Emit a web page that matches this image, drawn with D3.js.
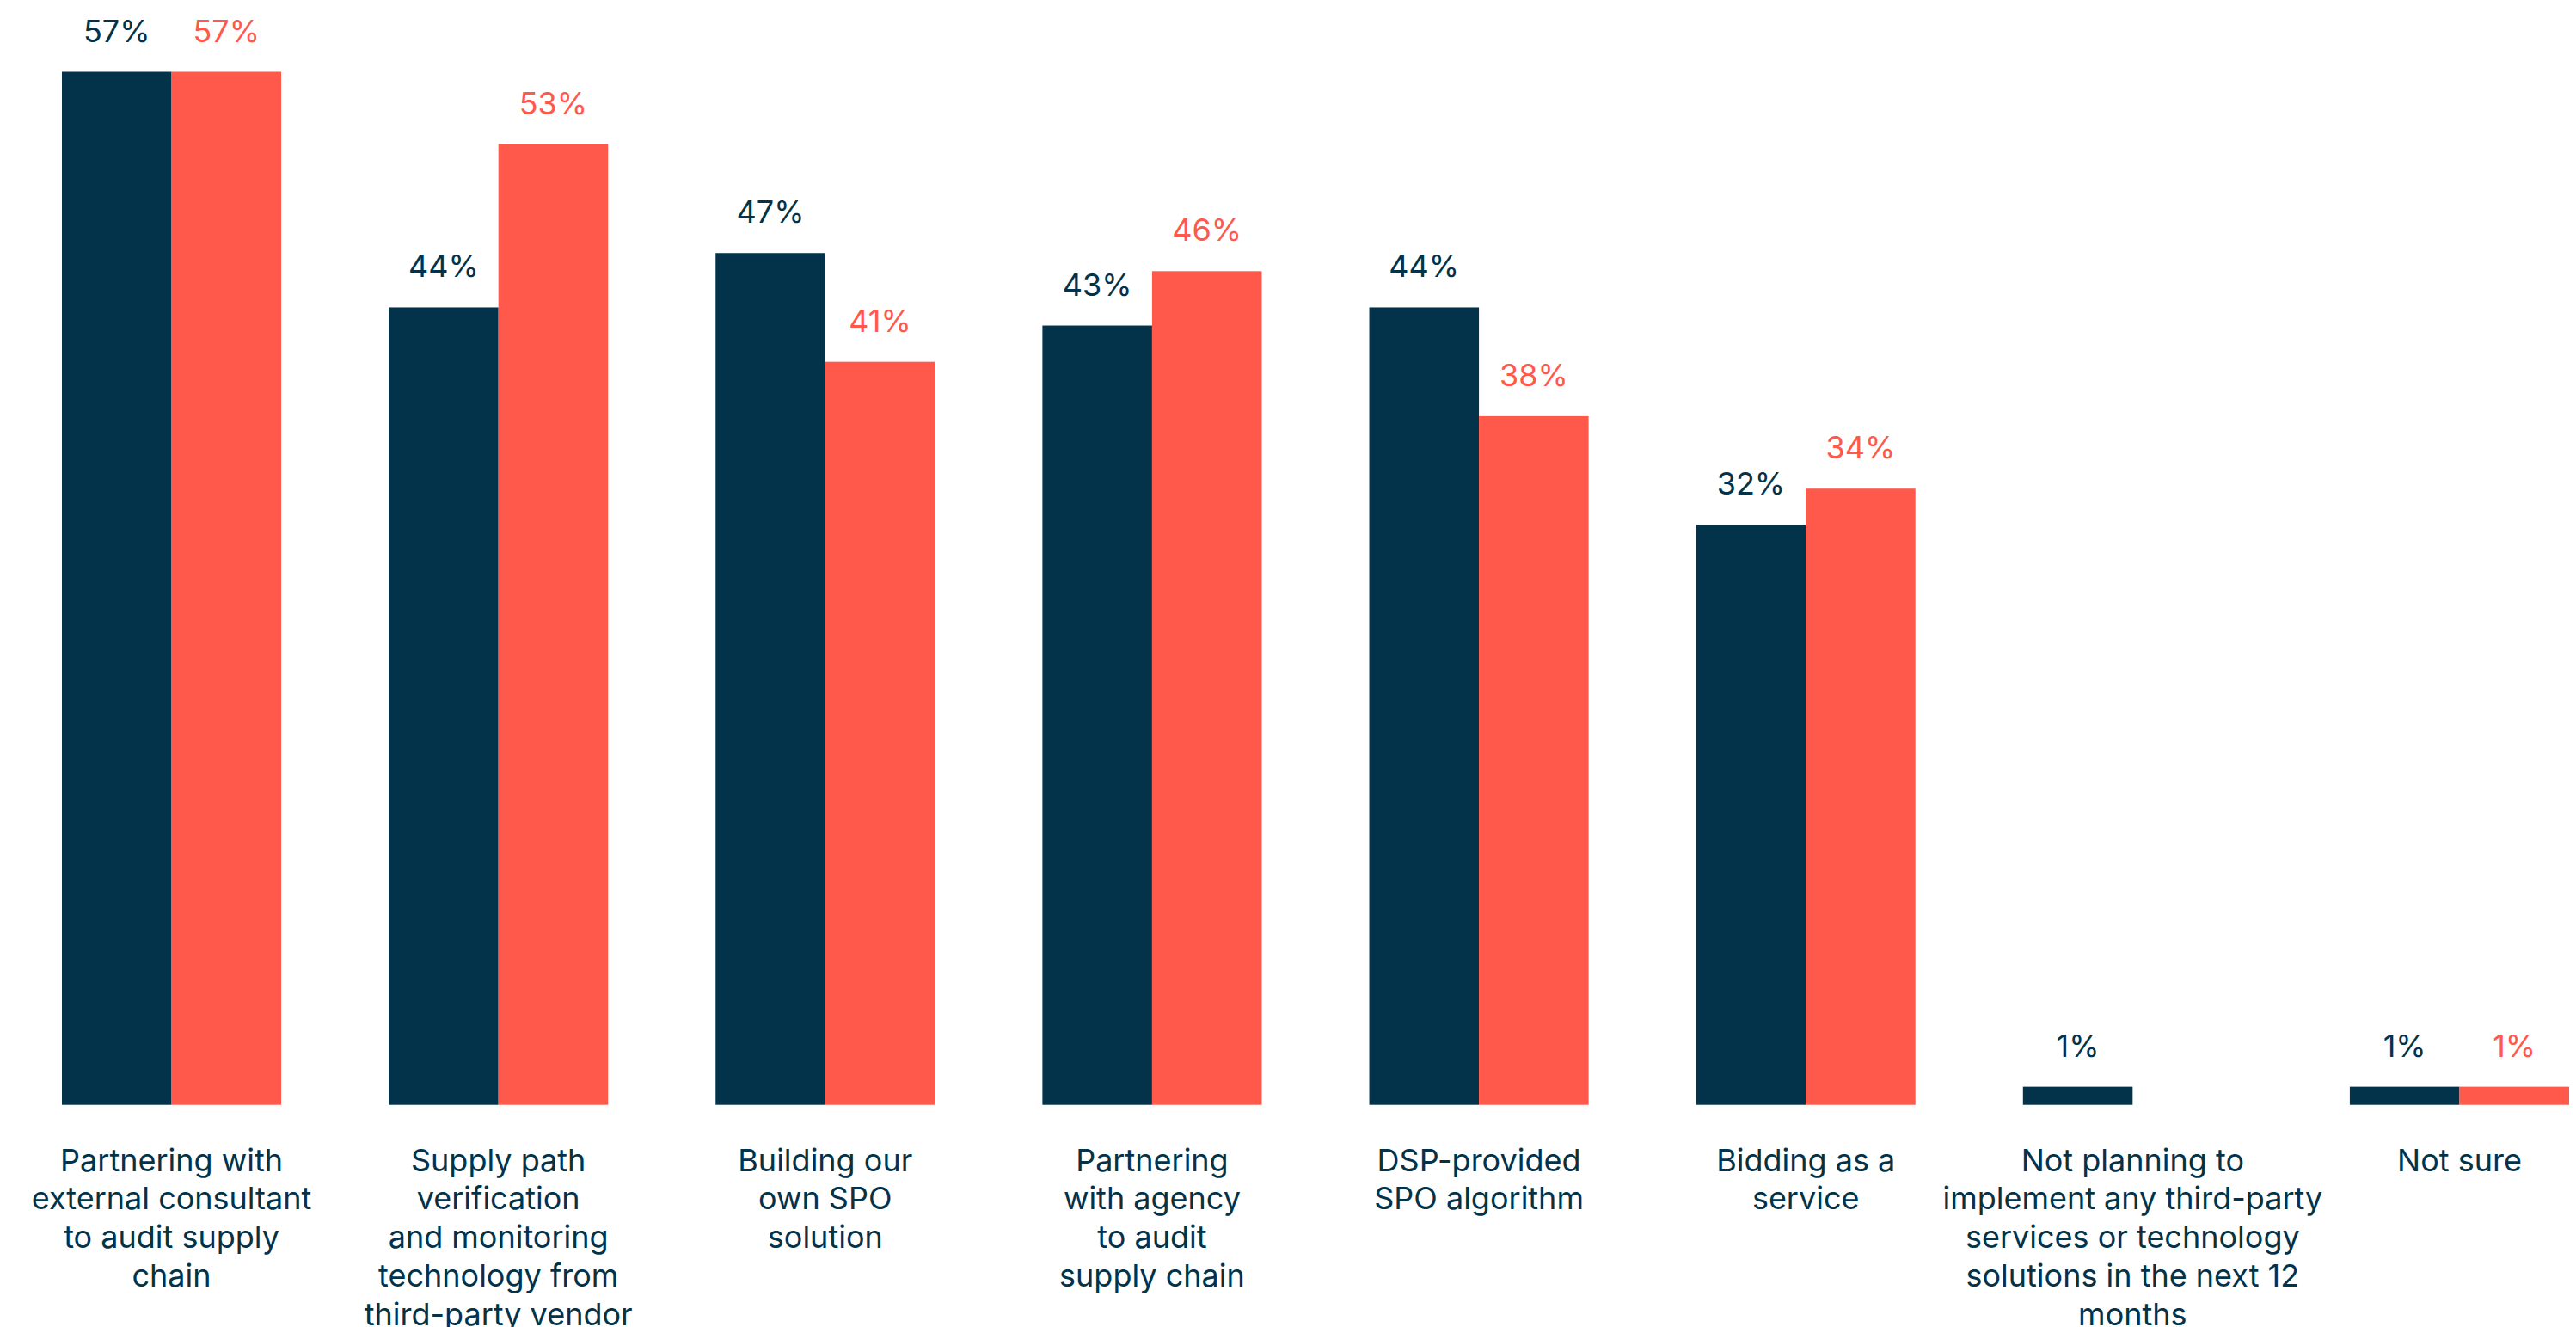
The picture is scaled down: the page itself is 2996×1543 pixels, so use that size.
<!DOCTYPE html>
<html>
<head>
<meta charset="utf-8">
<script src="https://cdn.jsdelivr.net/npm/d3@7"></script>
<style>
  html, body { margin: 0; padding: 0; background: #ffffff; }
  svg { display: block; }
  text { font-family: Inter, "Noto Sans", sans-serif; }
</style>
</head>
<body>
<svg id="chart" width="2996" height="1543"></svg>
<script>
// Category labels, one array entry per wrapped line
const categories = [
  ["Partnering with", "external consultant", "to audit supply", "chain"],
  ["Supply path", "verification", "and monitoring", "technology from", "third-party vendor"],
  ["Building our", "own SPO", "solution"],
  ["Partnering", "with agency", "to audit", "supply chain"],
  ["DSP-provided", "SPO algorithm"],
  ["Bidding as a", "service"],
  ["Not planning to", "implement any third-party", "services or technology", "solutions in the next 12", "months"],
  ["Not sure"]
];

// Two series of percentages (null = no bar)
const seriesA = [57, 44, 47, 43, 44, 32, 1, 1];
const seriesB = [57, 53, 41, 46, 38, 34, null, 1];

const seriesNames = ["A", "B"];
const colors = { A: "#03334a", B: "#ff594c" };

const svg = d3.select("#chart");

const keys = categories.map((c, i) => i);

const x0 = d3.scaleBand()
  .domain(keys)
  .range([72, 2988])
  .paddingInner(0.329)
  .paddingOuter(0);

const x1 = d3.scaleBand()
  .domain(seriesNames)
  .range([0, x0.bandwidth()])
  .padding(0);

const baseline = 1284.7;
const y = d3.scaleLinear()
  .domain([0, 57])
  .range([baseline, 83.5]);

const rows = keys.map(i => ({
  i,
  values: [
    { key: "A", v: seriesA[i] },
    { key: "B", v: seriesB[i] }
  ].filter(d => d.v !== null)
}));

const groups = svg.append("g").selectAll("g")
  .data(rows)
  .join("g")
  .attr("transform", d => `translate(${x0(d.i)},0)`);

groups.selectAll("rect")
  .data(d => d.values)
  .join("rect")
  .attr("x", d => x1(d.key))
  .attr("y", d => y(d.v))
  .attr("width", x1.bandwidth())
  .attr("height", d => baseline - y(d.v))
  .attr("fill", d => colors[d.key]);

groups.selectAll("text.value")
  .data(d => d.values)
  .join("text")
  .attr("class", "value")
  .attr("x", d => x1(d.key) + x1.bandwidth() / 2)
  .attr("y", d => y(d.v) - 35)
  .attr("text-anchor", "middle")
  .attr("font-size", 36)
  .attr("fill", d => colors[d.key])
  .text(d => d.v + "%");

// Category labels below the bars
const labels = svg.append("g").selectAll("text")
  .data(rows)
  .join("text")
  .attr("x", d => x0(d.i) + x0.bandwidth() / 2)
  .attr("y", 1361.7)
  .attr("text-anchor", "middle")
  .attr("font-size", 36)
  .attr("fill", colors.A);

labels.selectAll("tspan")
  .data(d => categories[d.i])
  .join("tspan")
  .attr("x", function() { return d3.select(this.parentNode).attr("x"); })
  .attr("dy", (d, j) => j === 0 ? 0 : 44.7)
  .text(d => d);
</script>
</body>
</html>
